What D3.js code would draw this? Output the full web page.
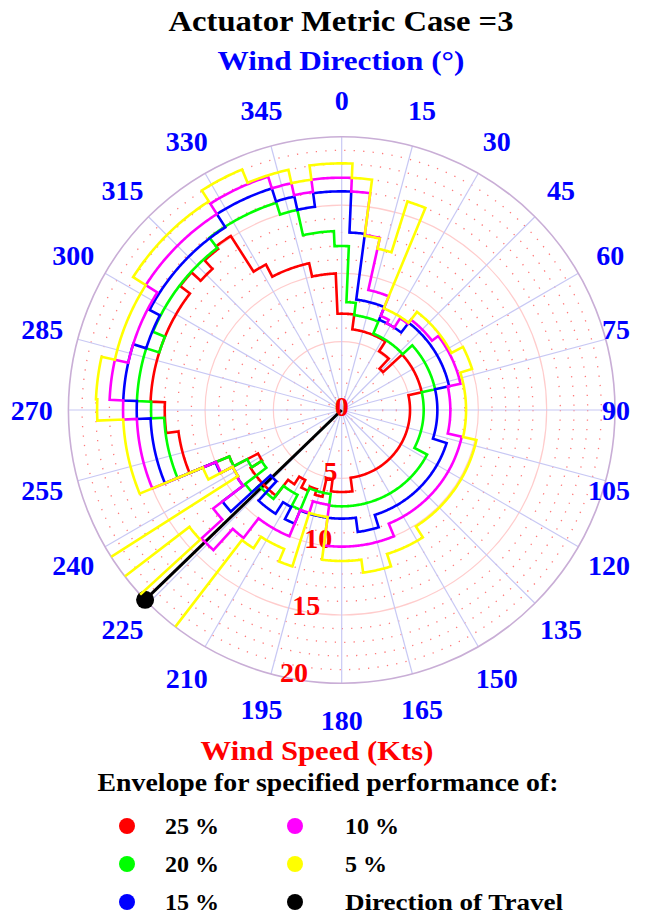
<!DOCTYPE html>
<html>
<head>
<meta charset="utf-8">
<script src="https://cdn.jsdelivr.net/npm/d3@7"></script>
<style>
  body { margin: 0; background: #fff; }
  text { font-family: "Palatino Linotype", "Book Antiqua", Palatino, "Liberation Serif", serif; font-weight: bold; }
</style>
</head>
<body>
<div id="chart"></div>
<script>
// 5 degree direction sectors, value = wind speed (kts) of the envelope edge
const binWidth = 5;
const directions = d3.range(0, 360, binWidth);

const envelope25 = [
  7.05, 7.05, 5.95, 5.95, 5.95, 5.95, 5.95, 5.1, 5.1, 4.1, 6.0, 6.0,
  6.0, 6.0, 6.0, 6.0, 5.0, 5.0, 5.0, 5.0, 5.0, 5.0, 5.0, 5.0,
  5.0, 5.0, 5.0, 5.0, 5.0, 5.0, 5.0, 5.0, 5.0, 5.0, 5.0, 6.0,
  6.0, 6.0, 5.1, 6.5, 6.07, 6.4, 5.78, 6.44, 7.9, 7.9, 7.9, 7.9,
  6.9, 8.9, 12.05, 12.05, 12.05, 12.95, 12.95, 14.0, 14.0, 14.0, 14.0, 14.0,
  14.0, 14.0, 14.9, 14.0, 14.85, 15.1, 12.0, 11.0, 11.0, 11.0, 10.0, 10.0
];
const envelope20 = [
  12.0, 7.9, 7.0, 7.0, 7.0, 6.05, 6.05, 6.05, 6.05, 6.05, 7.0, 7.0,
  7.0, 7.0, 7.0, 7.0, 6.0, 6.0, 6.0, 6.0, 6.0, 6.0, 6.0, 6.0,
  7.05, 7.05, 7.05, 7.05, 7.05, 7.05, 7.05, 7.05, 7.05, 7.05, 7.05, 7.05,
  7.05, 7.05, 6.2, 6.2, 6.2, 7.9, 7.0, 7.0, 8.2, 8.2, 8.9, 6.95,
  7.8, 8.9, 13.0, 13.0, 13.0, 13.0, 13.95, 15.0, 15.0, 15.0, 14.0, 14.95,
  14.95, 14.95, 14.95, 14.95, 14.95, 15.9, 15.9, 15.9, 15.9, 15.0, 13.1, 13.1
];
const envelope15 = [
  16.0, 13.0, 8.15, 8.15, 8.15, 7.15, 7.15, 7.15, 8.05, 8.05, 8.05, 8.05,
  8.05, 8.05, 8.05, 8.05, 7.0, 7.0, 7.0, 7.0, 7.0, 7.0, 8.05, 8.05,
  8.05, 8.05, 8.05, 8.05, 8.05, 8.05, 8.05, 8.05, 8.05, 9.0, 9.0, 7.95,
  7.95, 7.95, 7.95, 7.95, 7.95, 9.0, 8.0, 9.0, 9.0, 7.07, 11.0, 9.1,
  9.0, 10.0, 14.0, 14.0, 14.0, 14.0, 15.0, 16.0, 16.0, 16.0, 15.0, 15.0,
  15.85, 15.85, 15.85, 15.85, 15.85, 15.85, 17.0, 17.0, 17.0, 16.0, 15.0, 16.0
];
const envelope10 = [
  17.0, 16.0, 12.9, 9.0, 9.0, 7.45, 7.15, 7.95, 8.33, 8.33, 8.33, 8.9,
  8.9, 8.9, 8.9, 8.9, 7.95, 7.95, 7.95, 7.95, 7.95, 9.0, 9.0, 9.0,
  9.0, 9.0, 9.0, 9.0, 9.0, 9.0, 9.0, 9.0, 10.0, 10.0, 10.0, 10.0,
  10.0, 10.0, 7.0, 7.0, 7.9, 10.0, 10.0, 10.0, 11.8, 13.9, 11.85, 9.1,
  9.0, 9.95, 15.0, 15.0, 15.0, 15.0, 16.0, 17.0, 17.0, 16.0, 16.0, 16.0,
  16.0, 17.0, 17.0, 17.0, 17.0, 17.0, 17.9, 17.9, 17.9, 17.0, 16.1, 17.0
];
const envelope5 = [
  18.05, 17.0, 12.85, 12.1, 16.0, 8.05, 8.05, 8.05, 9.05, 9.05, 9.05, 9.05,
  9.05, 10.0, 10.0, 9.1, 9.1, 9.1, 9.1, 9.1, 9.1, 10.1, 10.1, 10.1,
  10.1, 10.1, 10.1, 10.1, 10.1, 10.1, 11.05, 11.05, 11.05, 12.0, 12.0, 11.05,
  11.05, 11.05, 7.9, 7.9, 12.0, 11.0, 11.0, 12.0, 21, 21, 14.05, 21,
  9.0, 11.0, 16.0, 16.0, 16.0, 16.0, 17.9, 18.0, 18.0, 17.0, 17.0, 17.0,
  17.0, 18.1, 18.1, 18.1, 18.1, 18.1, 19.05, 19.05, 18.0, 18.0, 17.0, 18.05
];

const angleTicks = d3.range(0, 360, 15);
const speedTicks = [0, 5, 10, 15, 20];
const travelDirection = 226;

const series = [
  { name: "25 %", color: "#ff0000", values: envelope25 },
  { name: "20 %", color: "#00ff00", values: envelope20 },
  { name: "15 %", color: "#0000ff", values: envelope15 },
  { name: "10 %", color: "#ff00ff", values: envelope10 },
  { name: "5 %", color: "#ffff00", values: envelope5 }
];
const legendItems = [
  { name: "25 %", color: "#ff0000" }, { name: "20 %", color: "#00ff00" }, { name: "15 %", color: "#0000ff" },
  { name: "10 %", color: "#ff00ff" }, { name: "5 %", color: "#ffff00" }, { name: "Direction of Travel", color: "#000000" }
];

const width = 664, height = 915;
const cx = 341.7, cy = 410, R = 273.3;
const rad = d => d * Math.PI / 180;

const svg = d3.select("#chart").append("svg")
    .attr("width", width)
    .attr("height", height);

const r = d3.scaleLinear().domain([0, 20]).range([0, R]);

const g = svg.append("g").attr("transform", "translate(" + cx + "," + cy + ")");

// dotted rings every knot
g.selectAll(".dot-ring")
    .data(d3.range(1, 20).filter(s => s % 5 !== 0))
    .enter().append("circle")
    .attr("r", d => r(d))
    .attr("fill", "none")
    .attr("stroke", "#ff7a7a")
    .attr("stroke-width", 1.3)
    .attr("stroke-dasharray", "1.3 8.2");

// solid rings every 5 kts
g.selectAll(".ring")
    .data([5, 10, 15])
    .enter().append("circle")
    .attr("r", d => r(d))
    .attr("fill", "none")
    .attr("stroke", "#ffcccc")
    .attr("stroke-width", 1.2);

// spokes
g.selectAll(".spoke")
    .data(angleTicks)
    .enter().append("line")
    .attr("x1", 0).attr("y1", 0)
    .attr("x2", d => r(20) * Math.sin(rad(d)))
    .attr("y2", d => -r(20) * Math.cos(rad(d)))
    .attr("stroke", "#c8c8f4")
    .attr("stroke-width", 1.2);

g.append("circle")
    .attr("r", r(20))
    .attr("fill", "none")
    .attr("stroke", "#c9aed6")
    .attr("stroke-width", 1.6);

svg.append("clipPath").attr("id", "plot-clip")
  .append("circle").attr("cx", cx).attr("cy", cy).attr("r", r(20));

// step envelope: arc across each sector, radial jump at sector edges
function envelopePoints(values) {
    const pts = [];
    values.forEach((v, i) => {
        const a0 = directions[i] - binWidth / 2;
        for (let k = 0; k <= 10; k++) pts.push([a0 + k * binWidth / 10, v]);
    });
    return pts;
}
const radialLine = d3.lineRadial()
    .angle(d => rad(d[0]))
    .radius(d => r(d[1]));

const plot = svg.append("g").attr("clip-path", "url(#plot-clip)")
  .append("g").attr("transform", "translate(" + cx + "," + cy + ")");

plot.selectAll(".envelope")
    .data(series)
    .enter().append("path")
    .attr("class", "envelope")
    .attr("d", d => radialLine(envelopePoints(d.values)) + "Z")
    .attr("fill", "none")
    .attr("stroke", d => d.color)
    .attr("stroke-width", 2.6)
    .attr("stroke-linejoin", "miter");

// direction of travel
const tx = r(20) * Math.sin(rad(travelDirection));
const ty = -r(20) * Math.cos(rad(travelDirection));
g.append("line")
    .attr("x1", 0).attr("y1", 0).attr("x2", tx).attr("y2", ty)
    .attr("stroke", "#000").attr("stroke-width", 3);
g.append("circle").attr("cx", tx).attr("cy", ty).attr("r", 9).attr("fill", "#000");

// direction labels
const angleLabels = g.selectAll(".angle-label")
    .data(angleTicks)
    .enter().append("text")
    .attr("x", d => 310 * Math.sin(rad(d)))
    .attr("y", d => -310 * Math.cos(rad(d)))
    .attr("text-anchor", "middle")
    .attr("dominant-baseline", "central")
    .attr("fill", "#0000ff")
    .style("font-size", "28px")
    .text(d => d);
angleLabels.each(function () {
    const el = d3.select(this);
    const w = this.getComputedTextLength();
    const x = +el.attr("x");
    if (cx + x + w / 2 > 630) el.attr("x", 630 - cx - w / 2);
});

// speed labels
g.selectAll(".speed-label")
    .data(speedTicks)
    .enter().append("text")
    .attr("x", d => d === 0 ? 0 : (r(d) - 6) * Math.sin(rad(190.3)))
    .attr("y", d => d === 0 ? -4 : -(r(d) - 6) * Math.cos(rad(190.3)))
    .attr("text-anchor", "middle")
    .attr("dominant-baseline", "central")
    .attr("fill", "#ff0000")
    .style("font-size", "28px")
    .text(d => d);

// titles
function fitText(sel, w) {
    sel.attr("textLength", w).attr("lengthAdjust", "spacingAndGlyphs");
}
svg.append("text")
    .attr("x", 341).attr("y", 31)
    .attr("text-anchor", "middle")
    .style("font-size", "29px")
    .text("Actuator Metric Case =3")
    .call(fitText, 345);

svg.append("text")
    .attr("x", 341).attr("y", 70)
    .attr("text-anchor", "middle")
    .attr("fill", "#0000ff")
    .style("font-size", "27px")
    .text("Wind Direction (°)")
    .call(fitText, 247);

svg.append("text")
    .attr("x", 317).attr("y", 760)
    .attr("text-anchor", "middle")
    .attr("fill", "#ff0000")
    .style("font-size", "27px")
    .text("Wind Speed (Kts)")
    .call(fitText, 233);

svg.append("text")
    .attr("x", 328).attr("y", 791)
    .attr("text-anchor", "middle")
    .style("font-size", "25px")
    .text("Envelope for specified performance of:")
    .call(fitText, 461);

// legend
const legend = svg.selectAll(".legend")
    .data(legendItems)
    .enter().append("g")
    .attr("transform", (d, i) => "translate(" + (i < 3 ? 127 : 295) + "," + (826 + (i % 3) * 38) + ")");
legend.append("circle").attr("r", 8).attr("fill", d => d.color);
legend.append("text")
    .attr("x", (d, i) => i < 3 ? 38 : 50)
    .attr("y", 0)
    .attr("dominant-baseline", "central")
    .style("font-size", "24px")
    .text(d => d.name)
    .each(function (d) {
        if (d.name === "Direction of Travel") d3.select(this).call(fitText, 218);
    });
</script>
</body>
</html>
